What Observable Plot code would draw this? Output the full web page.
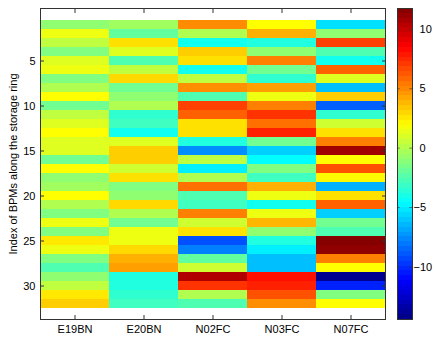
<!DOCTYPE html>
<html>
<head>
<meta charset="utf-8">
<script src="https://cdn.jsdelivr.net/npm/d3@7"></script>
<script src="https://cdn.jsdelivr.net/npm/@observablehq/plot@0.6"></script>
<style>
  html, body { margin: 0; padding: 0; background: #fff; }
  #wrap { position: relative; width: 436px; height: 339px; font-family: "Liberation Sans", Arial, sans-serif; }
  #wrap svg { position: absolute; top: 0; }
</style>
</head>
<body>
<div id="wrap"></div>
<script>
// Column categories (BPM names)
const bpms = ["E19BN", "E20BN", "N02FC", "N03FC", "N07FC"];
// Row indices along the storage ring
const rows = d3.range(1, 33);
const yTicks = [5, 10, 15, 20, 25, 30];
const cbTicks = [-10, -5, 0, 5, 10];
const colorDomain = [-14.42, 11.75];

// Values per column, row 1..32
const E19BN = [-0.95, 1.5, 0.3, -1.34, 1.1, 1.5, -1.34, -0.1, 1.94, -1.75, 0.3, 1.1, 1.94, 1.1, 1.1, -1.75,
               1.94, -0.95, -0.5, 1.94, -0.1, -1.34, 1.5, -1.34, 2.5, 1.5, -1.34, -2.6, -0.95, 0.3, 2.5, 3.2];
const E20BN = [-0.5, -2.1, 2.7, 1.1, -2.6, 0.3, 2.9, -1.75, -0.95, -0.1, -3.4, -3.0, -4.2, 1.1, 3.2, 3.2,
               0.7, 2.7, -1.34, -0.95, 2.9, -0.1, -1.75, 1.5, 1.5, 2.9, 3.97, 4.4, -3.8, -3.8, -3.4, -3.0];
const N02FC = [4.9, -0.1, -4.2, 3.2, 2.7, -4.2, 0.3, 4.8, -2.6, 6.84, 6.0, 2.7, 2.7, -3.8, -7.5, 0.3,
               -5.0, -0.1, 5.6, -2.6, -3.0, 5.2, 0.7, 2.7, -9.1, -7.9, -2.1, 0.7, 10.5, 7.2, -0.1, -2.6];
const N03FC = [1.94, 3.97, -3.8, -0.95, 5.2, -1.75, -3.4, 4.4, 1.5, 5.2, 7.2, 5.6, 7.65, -1.75, -5.85, -4.61,
               -1.34, -3.0, 3.97, 1.5, -4.2, 1.5, 3.8, -0.95, -3.8, -5.0, -6.24, -6.24, 8.1, 7.65, 6.4, 4.8];
const N07FC = [-5.4, -0.95, 6.84, -2.6, -4.2, 6.0, 1.1, -6.24, 3.2, -8.7, -3.4, 0.7, 2.7, 5.2, 10.9, 1.94,
               6.4, 2.1, -6.6, 2.7, 6.0, -5.85, -1.75, -2.6, 11.6, 11.3, 5.2, 1.94, -14.0, -10.3, -1.34, 1.94];

const series = {E19BN, E20BN, N02FC, N03FC, N07FC};
const data = [];
for (const b of bpms) series[b].forEach((v, i) => data.push({bpm: b, row: rows[i], value: v}));

// Jet colormap as a piecewise scale
const lo = colorDomain[0], hi = colorDomain[1];
const at = t => lo + t * (hi - lo);
const color = {
  type: "linear",
  domain: [0, 0.125, 0.375, 0.5, 0.625, 0.875, 1].map(at),
  range: ["#000080", "#0000ff", "#00ffff", "#80ff80", "#ffff00", "#ff0000", "#800000"],
  interpolate: "rgb",
  clamp: true
};

const font = "Liberation Sans, Arial, sans-serif";

const main = Plot.plot({
  width: 436,
  height: 339,
  marginLeft: 40,
  marginRight: 51,
  marginTop: 8,
  marginBottom: 20,
  style: {fontFamily: font, fontSize: "11px", color: "#000", background: "transparent"},
  x: {type: "band", domain: bpms, padding: 0, label: null},
  y: {type: "band", domain: rows, padding: 0, label: null},
  color,
  marks: [
    Plot.cell(data, {x: "bpm", y: "row", fill: "value", inset: 0}),
    Plot.axisX({anchor: "bottom", tickSize: 0, tickPadding: 6, fontSize: 11}),
    Plot.axisX({anchor: "bottom", tickSize: -4, text: null, stroke: "#333"}),
    Plot.axisX({anchor: "top", tickSize: -4, text: null, stroke: "#333"}),
    Plot.axisY({anchor: "left", ticks: yTicks, tickSize: 0, tickPadding: 5, fontSize: 11, label: null}),
    Plot.axisY({anchor: "left", ticks: yTicks, tickSize: -4, text: null, stroke: "#333", label: null}),
    Plot.axisY({anchor: "right", ticks: yTicks, tickSize: -4, text: null, stroke: "#333", label: null}),
    Plot.frame({stroke: "#333"}),
    Plot.text(["Index of BPMs along the storage ring"], {
      frameAnchor: "left", rotate: -90, dx: -27, textAnchor: "middle", fontSize: 11, fill: "#000"
    })
  ]
});
main.style.left = "0px";

// Colorbar: 64 discrete bands like MATLAB's jet(64)
const nBands = 64;
const step = (hi - lo) / nBands;
const bands = d3.range(nBands).map(i => ({y1: lo + i * step, y2: lo + (i + 1) * step, v: lo + (i + 0.5) * step}));
// MATLAB leaves room for the minus sign on non-negative labels
const cbFormat = d => d < 0 ? "\u2212" + Math.abs(d) : "\u2007" + d;

const bar = Plot.plot({
  width: 47,
  height: 339,
  marginLeft: 8,
  marginRight: 24,
  marginTop: 8,
  marginBottom: 20,
  style: {fontFamily: font, fontSize: "11px", color: "#000", background: "transparent", overflow: "visible"},
  x: {domain: [0, 1], axis: null},
  y: {domain: colorDomain, axis: null},
  color,
  marks: [
    Plot.rect(bands, {x1: 0, x2: 1, y1: "y1", y2: "y2", fill: "v", shapeRendering: "crispEdges"}),
    Plot.ruleY(cbTicks, {x1: 0, x2: 0.18, stroke: "#333", strokeOpacity: 0.6}),
    Plot.ruleY(cbTicks, {x1: 0.82, x2: 1, stroke: "#333", strokeOpacity: 0.6}),
    Plot.axisY({anchor: "right", ticks: cbTicks, tickFormat: cbFormat, tickSize: 0, tickPadding: 1, fontSize: 11, label: null}),
    Plot.frame({stroke: "#333"})
  ]
});
bar.style.left = "389px";

const wrap = document.getElementById("wrap");
wrap.appendChild(main);
wrap.appendChild(bar);
</script>
</body>
</html>
